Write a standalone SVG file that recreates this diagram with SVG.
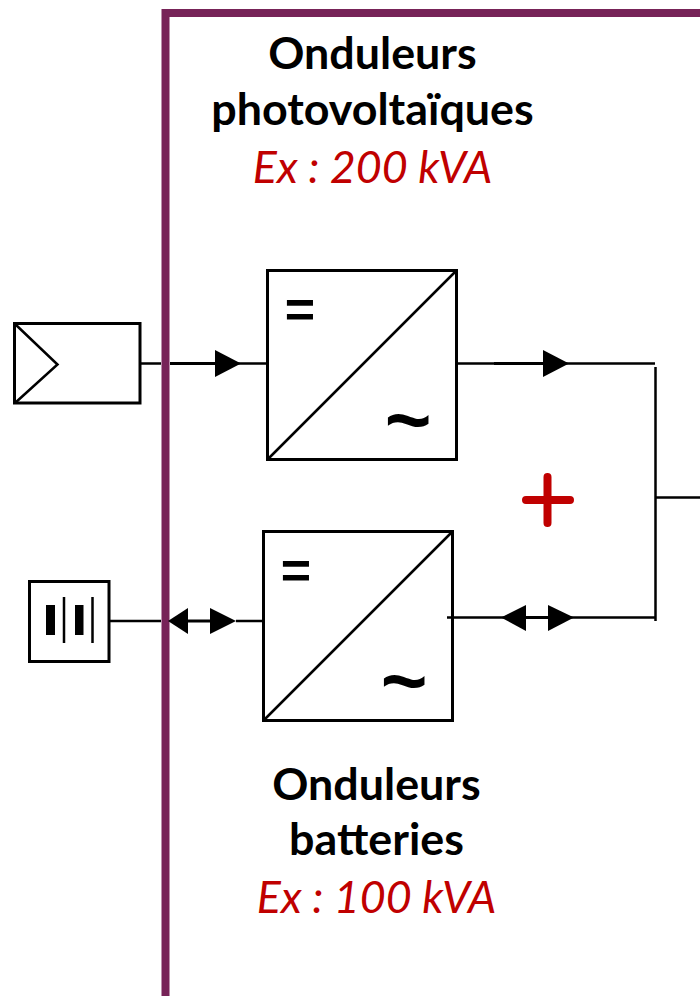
<svg xmlns="http://www.w3.org/2000/svg" width="700" height="996" viewBox="0 0 700 996">
<style>
.ln{fill:none;stroke:#000;stroke-width:2.500}
.bd{fill:#fff;stroke:#000;stroke-width:3}
.ar{fill:#000}
.t{font-family:Lato,"Open Sans",sans-serif;font-weight:700;font-size:44.800px;fill:#000;text-anchor:middle}
.r{font-family:Lato,"Open Sans",sans-serif;font-style:italic;font-size:44.800px;fill:#c00000;text-anchor:middle}
.s{font-family:"Liberation Sans",sans-serif;font-weight:700;fill:#000;text-anchor:middle}
</style>
<rect width="700" height="996" fill="#fff"/>
<g id="enclosure"><path d="M700 13H165.500V996" fill="none" stroke="#772358" stroke-width="8"/></g>
<g id="pv-source">
<rect class="bd" x="14.500" y="323.500" width="125.500" height="79.500"/>
<path class="ln" d="M15 324L57.500 364.500L15 403"/>
</g>
<g id="battery-source">
<rect class="bd" x="29.500" y="581.500" width="79.500" height="80"/>
<rect x="46" y="605" width="9" height="30"/>
<rect x="75" y="605" width="8.500" height="30"/>
<path class="ln" d="M64 597V643M92.500 597V643"/>
</g>
<g id="pv-inverter">
<rect class="bd" x="267.500" y="270.500" width="189" height="189"/>
<path class="ln" d="M267.500 459.500L456.500 270.500"/>
<text class="s" x="300" y="327" font-size="52">=</text>
<text class="s" x="408" y="447" font-size="80">~</text>
</g>
<g id="battery-inverter">
<rect class="bd" x="263.500" y="531.500" width="189" height="189"/>
<path class="ln" d="M263.500 720.500L452.500 531.500"/>
<text class="s" x="296" y="588" font-size="52">=</text>
<text class="s" x="404" y="708" font-size="80">~</text>
</g>
<g id="connectors">
<path class="ln" d="M140 363.500H161M170 363.500H268M457 363.500H655M655.500 367V621M656 497.500H700M109 621H161M236 621H263M447 617.500H655"/>
<path d="M170 363.500H215M494 363.500H545M188 621H210M526 617.500H548" fill="none" stroke="#000" stroke-width="3"/>
<polygon class="ar" points="215,350 241,363.500 215,377"/>
<polygon class="ar" points="543,350 569,363.500 543,377"/>
<polygon class="ar" points="168,621 188,608 188,634"/>
<polygon class="ar" points="210,608 236,621 210,634"/>
<polygon class="ar" points="501,617.500 526,605 526,631"/>
<polygon class="ar" points="548,605 574,617.500 548,631"/>
</g>
<g id="sum"><path d="M526 500H570M547.500 477V523" fill="none" stroke="#c00000" stroke-width="8" stroke-linecap="round"/></g>
<g id="label-pv">
<text class="t" x="372.500" y="69">Onduleurs</text>
<text class="t" x="372.500" y="125">photovoltaïques</text>
<text class="r" x="372.500" y="183">Ex : 200 kVA</text>
</g>
<g id="label-battery">
<text class="t" x="376.500" y="800">Onduleurs</text>
<text class="t" x="376.500" y="855">batteries</text>
<text class="r" x="376.500" y="913">Ex : 100 kVA</text>
</g>
</svg>
